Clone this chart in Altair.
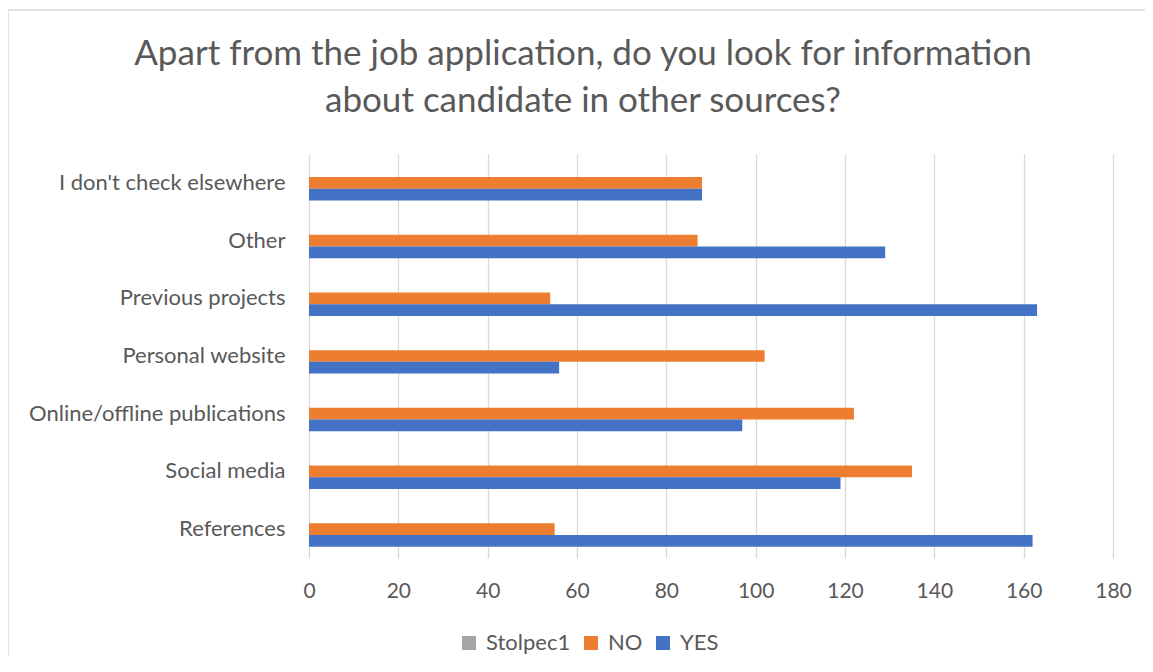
import altair as alt
import pandas as pd

categories = [
    "I don't check elsewhere",
    "Other",
    "Previous projects",
    "Personal website",
    "Online/offline publications",
    "Social media",
    "References",
]
series = ["Stolpec1", "NO", "YES"]
no_values = [88, 87, 54, 102, 122, 135, 55]
yes_values = [88, 129, 163, 56, 97, 119, 162]
stolpec1_values = [0, 0, 0, 0, 0, 0, 0]
x_ticks = [0, 20, 40, 60, 80, 100, 120, 140, 160, 180]
colors = ["#A5A5A5", "#ED7D31", "#4472C4"]

rows = []
for i, c in enumerate(categories):
    rows.append({"category": c, "series": "Stolpec1", "value": stolpec1_values[i]})
    rows.append({"category": c, "series": "NO", "value": no_values[i]})
    rows.append({"category": c, "series": "YES", "value": yes_values[i]})
df = pd.DataFrame(rows)

FONT = "Lato"
TXT = "#595959"

bars = alt.Chart(df).mark_bar().encode(
    x=alt.X(
        "value:Q",
        scale=alt.Scale(domain=[0, 180], nice=False),
        axis=alt.Axis(
            values=x_ticks,
            title=None,
            domain=False,
            ticks=False,
            grid=True,
            gridColor="#D9D9D9",
            gridWidth=1.3,
            labelFlush=False,
            labelFont=FONT,
            labelFontSize=21,
            labelColor=TXT,
            labelPadding=22,
        ),
    ),
    y=alt.Y(
        "category:N",
        sort=categories,
        scale=alt.Scale(paddingInner=0.39, paddingOuter=0.195),
        axis=alt.Axis(
            title=None,
            domain=False,
            ticks=False,
            labelFont=FONT,
            labelFontSize=22,
            labelColor=TXT,
            labelPadding=24,
            labelLimit=400,
        ),
    ),
    yOffset=alt.YOffset("series:N", sort=series, scale=alt.Scale(domain=series)),
    color=alt.Color(
        "series:N",
        scale=alt.Scale(domain=series, range=colors),
        legend=alt.Legend(
            title=None,
            orient="none",
            direction="horizontal",
            legendX=149,
            legendY=478,
            symbolType="square",
            symbolSize=196,
            symbolStrokeWidth=0,
            labelFont=FONT,
            labelFontSize=22,
            labelColor=TXT,
            labelOffset=6,
            columnPadding=9,
        ),
    ),
)

frame = alt.Chart(pd.DataFrame({"k": [0]})).mark_rect(
    fill=None, stroke="#D9D9D9", strokeWidth=1.5
).encode(
    x=alt.value(-301), x2=alt.value(850), y=alt.value(-144), y2=alt.value(520)
)

chart = alt.layer(frame, bars).properties(
    width=804,
    height=404,
    padding={"left": 301, "top": 146, "right": 32, "bottom": 98},
    autosize=alt.AutoSizeParams(type="none"),
    title=alt.TitleParams(
        text=[
            "Apart from the job application, do you look for information",
            "about candidate in other sources?",
        ],
        font=FONT,
        fontSize=35,
        fontWeight="normal",
        color=TXT,
        anchor="middle",
        dx=-128,
        offset=-110,
        lineHeight=47,
    ),
).configure_view(stroke=None)

chart.save("out.html", embed_options={"renderer": "svg", "actions": False})
